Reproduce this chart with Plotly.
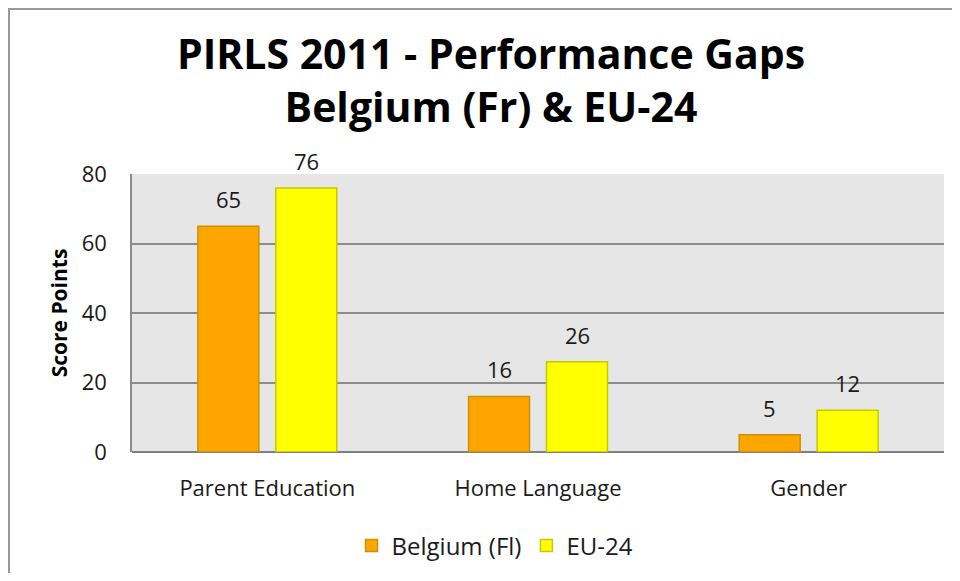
import plotly.graph_objects as go

categories = ["Parent Education", "Home Language", "Gender"]
belgium_fl = [65, 16, 5]
eu24 = [76, 26, 12]
series_names = ["Belgium (Fl)", "EU-24"]
y_ticks = [0, 20, 40, 60, 80]

FONT = "Open Sans"
# page body has an 8px default margin; figure sized to fit the 960x581 window
W, H = 944, 565
ML, MR, MT, MB = 124, 8, 166, 121
PW, PH = W - ML - MR, H - MT - MB

fig = go.Figure()
fig.add_trace(go.Bar(
    x=categories, y=belgium_fl, name=series_names[0],
    marker=dict(color="#FFA500", line=dict(color="#C89400", width=1.5)),
))
fig.add_trace(go.Bar(
    x=categories, y=eu24, name=series_names[1],
    marker=dict(color="#FFFF00", line=dict(color="#C8C800", width=1.5)),
))

annotations = []
for vals, shift in ((belgium_fl, -39), (eu24, 39)):
    for c, v in zip(categories, vals):
        annotations.append(dict(
            x=c, y=v, xref="x", yref="y", text=str(v), showarrow=False,
            xshift=shift, yshift=27, yanchor="middle",
            font=dict(family=FONT, size=22, color="#1a1a1a"),
        ))


def px_x(p):
    return (p - ML) / PW


def px_y(p):
    return (H - MB - p) / PH


fig.update_layout(
    width=W, height=H,
    margin=dict(l=ML, r=MR, t=MT, b=MB, autoexpand=False),
    paper_bgcolor="white",
    plot_bgcolor="#E6E6E6",
    barmode="group",
    bargap=0.424,
    bargroupgap=0.218,
    font=dict(family=FONT, size=22, color="#1a1a1a"),
    title=dict(
        text="<b>PIRLS 2011 - Performance Gaps<br>Belgium (Fr) &amp; EU-24</b>",
        x=483 / W, xref="container", xanchor="center",
        y=1 - 61 / H, yref="container", yanchor="top",
        font=dict(family=FONT, size=41, color="black"),
    ),
    xaxis=dict(
        showgrid=False, showline=False, zeroline=False,
        ticks="", ticklabelstandoff=21,
        tickfont=dict(family=FONT, size=22, color="#1a1a1a"),
    ),
    yaxis=dict(
        range=[0, 80], tickvals=y_ticks,
        showgrid=True, gridcolor="#8C8C8C", gridwidth=1.5,
        showline=True, linecolor="#8C8C8C", linewidth=1.5,
        zeroline=True, zerolinecolor="#808080", zerolinewidth=2,
        ticks="", ticklabelstandoff=19,
        tickfont=dict(family=FONT, size=22, color="#1a1a1a"),
        title=dict(text="<b>Score Points</b>", standoff=8,
                   font=dict(family=FONT, size=21, color="black")),
    ),
    legend=dict(
        orientation="h", x=px_x(487), xanchor="center",
        y=px_y(538), yanchor="middle",
        font=dict(family=FONT, size=24, color="#1a1a1a"),
        bgcolor="rgba(0,0,0,0)",
    ),
    annotations=annotations,
    shapes=[dict(
        type="rect", xref="paper", yref="paper",
        x0=px_x(1), x1=px_x(990), y0=px_y(620), y1=px_y(1),
        line=dict(color="#999999", width=2), fillcolor="rgba(0,0,0,0)",
        layer="below",
    )],
)

fig.write_html("out.html")
